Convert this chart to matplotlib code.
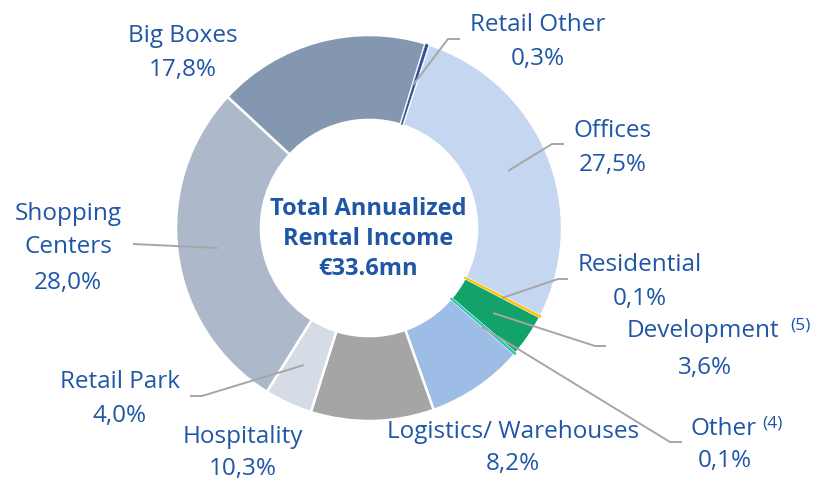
import matplotlib
matplotlib.use("Agg")
import matplotlib.pyplot as plt

W, H = 819, 483

categories = ["Retail Other", "Offices", "Residential", "Development", "Other",
              "Logistics/ Warehouses", "Hospitality", "Retail Park",
              "Shopping Centers", "Big Boxes"]
values = [0.3, 27.5, 0.1, 3.6, 0.1, 8.2, 10.3, 4.0, 28.0, 17.8]
pct_labels = ["0,3%", "27,5%", "0,1%", "3,6%", "0,1%", "8,2%", "10,3%", "4,0%", "28,0%", "17,8%"]
colors = ["#2F5597", "#C5D7F0", "#FFC000", "#12A26A", "#2EC4B6",
          "#9DBCE6", "#A5A5A5", "#D6DCE5", "#ADB9CA", "#8497B0"]
center_title = "Total Annualized\nRental Income\n€33.6mn"

TXT = "#1F56A5"
LINE = "#A6A6A6"
FONT = "Open Sans"

fig = plt.figure(figsize=(W / 100, H / 100), dpi=100)
ax = fig.add_axes([0, 0, 1, 1])

def Y(y):
    return H - y

cx, cy, R = 369, 228, 193
wedges, _ = ax.pie(values, colors=colors, startangle=73, counterclock=False,
                   center=(cx, Y(cy)), radius=R, frame=True,
                   wedgeprops=dict(width=R * 0.44, edgecolor="white", linewidth=1.8))
# thin slices: keep them visible above the neighbours' white separators
wedges[0].set_linewidth(0.3)
wedges[0].set_zorder(5)
for i in (2, 4):
    wedges[i].set_edgecolor(colors[i])
    wedges[i].set_linewidth(1.0)
    wedges[i].set_zorder(5)
ax.set_xlim(0, W)
ax.set_ylim(0, H)
ax.set_aspect("equal")
ax.axis("off")

ax.text(cx - 1, Y(239), center_title, ha="center", va="center", color=TXT,
        fontsize=17, fontweight="bold", family=FONT, linespacing=1.36, zorder=10)

fs = 17.5
sfs = 12.5

def txt(x, y, s, size=fs, ha="center"):
    ax.text(x, Y(y), s, ha=ha, va="center", color=TXT, fontsize=size, family=FONT, zorder=10)

def label(x, y, name, pct, gap=34):
    txt(x, y, name)
    txt(x, y + gap, pct)

def leader(pts):
    xs = [p[0] for p in pts]
    ys = [Y(p[1]) for p in pts]
    ax.plot(xs, ys, color=LINE, lw=1.4, solid_capstyle="butt", zorder=8)

label(183, 36, categories[9], pct_labels[9])
label(538, 25, categories[0], pct_labels[0])
label(613, 131, categories[1], pct_labels[1])
label(640, 265, categories[2], pct_labels[2])
txt(703, 331, categories[3])
txt(790, 326, "(5)", size=sfs, ha="left")
txt(705, 368, pct_labels[3])
txt(724, 429, categories[4])
txt(762, 423, "(4)", size=sfs, ha="left")
txt(725, 461, pct_labels[4])
label(513, 432, categories[5], pct_labels[5], gap=32)
label(243, 437, categories[6], pct_labels[6], gap=32)
label(120, 382, categories[7], pct_labels[7])
txt(68, 214, "Shopping")
txt(68, 247, "Centers")
txt(68, 283, pct_labels[8])

leader([(413, 85), (448, 39), (460, 39)])
leader([(508, 171), (552, 144), (564, 144)])
leader([(502, 298), (558, 279), (568, 279)])
leader([(493, 313), (595, 346), (606, 346)])
leader([(482, 327), (670, 442), (682, 442)])
leader([(304, 365), (202, 396), (190, 396)])
leader([(218, 248), (133, 244)])

fig.savefig("out.png", dpi=100)
